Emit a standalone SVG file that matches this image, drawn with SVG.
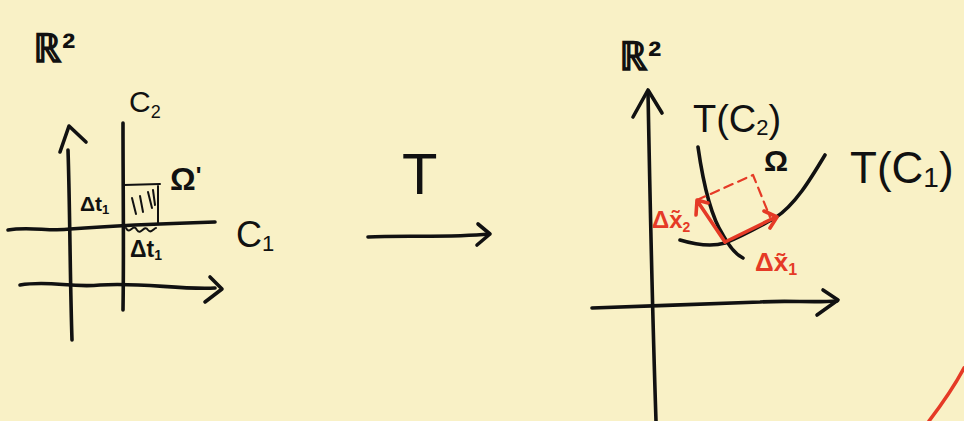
<svg xmlns="http://www.w3.org/2000/svg" width="964" height="421" viewBox="0 0 964 421">
<style>
.ink{fill:none;stroke:#111;stroke-width:3.6;stroke-linecap:round;stroke-linejoin:round}
.thin{fill:none;stroke:#111;stroke-width:2;stroke-linecap:round;stroke-linejoin:round}
.red{fill:none;stroke:#e53a26;stroke-width:3.6;stroke-linecap:round;stroke-linejoin:round}
.dash{stroke-dasharray:9 6;stroke-width:2.2}
.t{font-family:"Liberation Sans",Arial,sans-serif;fill:#111}
.rt{font-family:"Liberation Sans",Arial,sans-serif;fill:#e53a26;font-weight:bold}
</style>
<rect width="964" height="421" fill="#f9f1c6"/>
<g id="left">
<text class="t" x="33" y="62" font-size="40" font-weight="bold">ℝ²</text>
<path class="ink" d="M68,150 C70,210 70,280 72,340"/>
<path class="ink" d="M60,152 L69,126 L86,142"/>
<path class="ink" d="M123,123 C123,190 124,250 123,310"/>
<path class="ink" d="M8,230 C30,226 50,232 70,229 C110,226 150,224 215,222"/>
<path class="ink" d="M20,285 C50,280 70,288 100,285 C140,282 180,290 215,288"/>
<path class="ink" d="M210,277 L222,289 L205,302"/>
<text class="t" x="129" y="112" font-size="30">C<tspan font-size="18" dy="6">2</tspan></text>
<text class="t" x="170" y="190" font-size="32" font-weight="bold">Ω<tspan font-size="24" dy="-6">'</tspan></text>
<path class="thin" d="M124,185 L160,184 M158,186 L158,224"/>
<path class="thin" d="M132,198 L136,214 M140,196 L143,212 M148,192 L152,208 M153,190 L155,205"/>
<path class="thin" d="M126,228 C130,236 133,222 137,230 C141,236 144,224 148,230 C151,234 154,228 156,228"/>
<text class="t" x="80" y="211" font-size="21" font-weight="bold">Δt<tspan font-size="13" dy="3">1</tspan></text>
<text class="t" x="236" y="247" font-size="36">C<tspan font-size="22" dy="4">1</tspan></text>
<text class="t" x="130" y="257" font-size="23" font-weight="bold">Δt<tspan font-size="14" dy="3">1</tspan></text>
</g>
<g id="map">
<text class="t" x="402" y="194" font-size="58">T</text>
<path class="ink" d="M368,237 C400,235 450,238 489,234"/>
<path class="ink" d="M478,224 L490,234 L477,245"/>
</g>
<g id="right">
<text class="t" x="619" y="70" font-size="40" font-weight="bold">ℝ²</text>
<path class="ink" d="M648,92 C650,200 652,300 656,421"/>
<path class="ink" d="M633,117 L648,90 L662,113"/>
<path class="ink" d="M592,308 C650,306 700,304 760,302 C790,300 810,303 837,301"/>
<path class="ink" d="M823,290 L838,300 L817,315"/>
<text class="t" x="693" y="132" font-size="38">T(C<tspan font-size="22" dy="3">2</tspan><tspan dy="-3">)</tspan></text>
<path class="ink" d="M698,147 C702,175 710,215 723,235 C730,248 737,255 743,258"/>
<text class="t" x="764" y="171" font-size="30" font-weight="bold">Ω</text>
<path class="ink" d="M680,240 C700,246 715,246 725,243 C745,235 760,226 775,218 C795,205 810,180 825,155"/>
<text class="t" x="850" y="183" font-size="44">T(C<tspan font-size="28" dy="4">1</tspan><tspan dy="-4">)</tspan></text>
<path class="red dash" d="M697,200 L753,175 L770,217"/>
<path class="red" d="M725,242 L776,217 M764,211 L777,217 L770,228"/>
<path class="red" d="M725,242 L698,202 M696,215 L697,200 L708,203"/>
<text class="rt" x="652" y="228" font-size="24">Δx̃<tspan font-size="14" dy="4">2</tspan></text>
<text class="rt" x="755" y="271" font-size="26">Δx̃<tspan font-size="16" dy="4">1</tspan></text>
<path class="red" d="M929,421 C945,400 955,385 964,368"/>
</g>
</svg>
